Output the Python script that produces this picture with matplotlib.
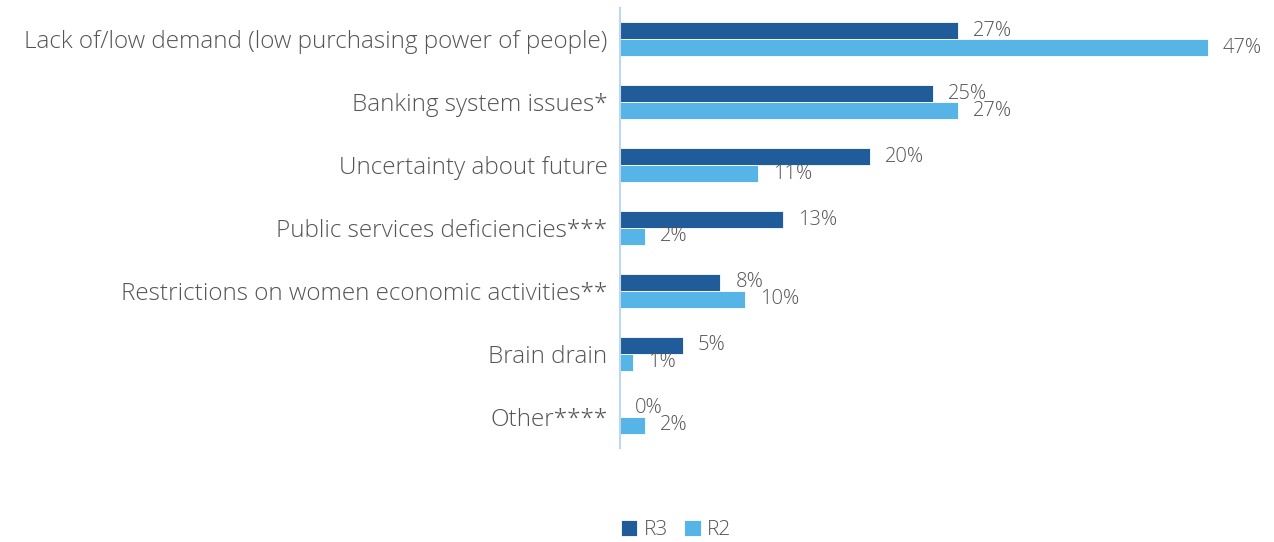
import matplotlib.pyplot as plt
import numpy as np

plt.rcParams['font.family'] = ['Open Sans', 'DejaVu Sans']

categories = [
    'Lack of/low demand (low purchasing power of people)',
    'Banking system issues*',
    'Uncertainty about future',
    'Public services deficiencies***',
    'Restrictions on women economic activities**',
    'Brain drain',
    'Other****',
]
r3 = [27, 25, 20, 13, 8, 5, 0]
r2 = [47, 27, 11, 2, 10, 1, 2]

dark = '#1f5c99'
light = '#56b4e6'
text_col = '#555555'

fig = plt.figure(figsize=(12.74, 5.42), dpi=100)
ax = fig.add_axes([620 / 1274, 1 - 448 / 542, 630 / 1274, 440 / 542])

y = np.arange(len(categories))
h = 0.27
b3 = ax.barh(y - h / 2, r3, height=h, color=dark, edgecolor='white', linewidth=0.6, label='R3')
b2 = ax.barh(y + h / 2, r2, height=h, color=light, edgecolor='white', linewidth=0.6, label='R2')

for bars in (b3, b2):
    ax.bar_label(bars, labels=[f'{v}%' for v in bars.datavalues], padding=11,
                 fontsize=14.5, color=text_col, fontweight='light')

ax.set_xlim(0, 50.4)
ax.set_ylim(len(categories) - 0.5, -0.5)
ax.set_yticks(y)
ax.set_yticklabels(categories, fontsize=17.5, color=text_col, fontweight='light')
ax.tick_params(axis='y', length=0, pad=9)
ax.set_xticks([])

for side in ('top', 'right', 'bottom'):
    ax.spines[side].set_visible(False)
ax.spines['left'].set_color('#bdd7ee')
ax.spines['left'].set_linewidth(1.5)

leg = fig.legend(handles=[b3, b2], loc='center', bbox_to_anchor=(676 / 1274, 1 - 530 / 542),
                 ncol=2, frameon=False, handlelength=0.8, handleheight=0.8,
                 handletextpad=0.3, columnspacing=0.8, labelcolor=text_col,
                 prop={'weight': 'light', 'size': 15})

fig.savefig('out.png', dpi=100)
